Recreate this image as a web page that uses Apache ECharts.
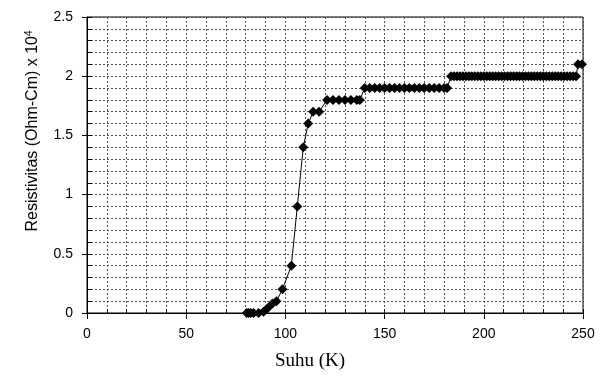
<!DOCTYPE html>
<html><head><meta charset="utf-8">
<script src="https://cdn.jsdelivr.net/npm/echarts@6/dist/echarts.min.js"></script>
<style>html,body{margin:0;padding:0;background:#fff}#c{width:608px;height:379px}</style>
</head><body><div id="c"></div>
<script>
const temperature = [80.5, 81.5, 82.5, 84, 86.5, 89, 91, 93.5, 95.5, 98.5, 103, 106, 109, 111.5, 114, 117,
  121, 124, 127, 130, 133, 136, 137.5,
  140, 142.5, 145, 147.5, 150, 152.5, 155, 157.5, 160, 162.5, 165, 167.5, 170, 172.5, 175, 177.5, 180, 181.5,
  183.5, 185, 186.5, 188, 189.5, 191, 192.5, 194, 195.5, 197, 198.5, 200, 201.5, 203, 204.5, 206, 207.5, 209,
  210.5, 212, 213.5, 215, 216.5, 218, 219.5, 221, 222.5, 224, 225.5, 227, 228.5, 230, 231.5, 233, 234.5, 236,
  237.5, 239, 240.5, 242, 243.5, 245, 246.5,
  247.5, 249.5];
const resistivity = [0, 0, 0, 0, 0, 0.01, 0.04, 0.08, 0.1, 0.2, 0.4, 0.9, 1.4, 1.6, 1.7, 1.7,
  1.8, 1.8, 1.8, 1.8, 1.8, 1.8, 1.8,
  1.9, 1.9, 1.9, 1.9, 1.9, 1.9, 1.9, 1.9, 1.9, 1.9, 1.9, 1.9, 1.9, 1.9, 1.9, 1.9, 1.9, 1.9,
  2.0, 2.0, 2.0, 2.0, 2.0, 2.0, 2.0, 2.0, 2.0, 2.0, 2.0, 2.0, 2.0, 2.0, 2.0, 2.0, 2.0, 2.0,
  2.0, 2.0, 2.0, 2.0, 2.0, 2.0, 2.0, 2.0, 2.0, 2.0, 2.0, 2.0, 2.0, 2.0, 2.0, 2.0, 2.0, 2.0,
  2.0, 2.0, 2.0, 2.0, 2.0, 2.0, 2.0,
  2.1, 2.1];
const xTicks = [0, 50, 100, 150, 200, 250];
const yTicks = [0, 0.5, 1, 1.5, 2, 2.5];
const xTitle = 'Suhu (K)';
const yTitle = 'Resistivitas (Ohm-Cm) x 10{sup|4}';

const points = temperature.map((t, i) => [t, resistivity[i]]);
const gridColor = '#505050';
const gridDash = [2, 2];
const labelFont = { fontFamily: 'Liberation Sans', fontSize: 14, color: '#000' };

const chart = echarts.init(document.getElementById('c'), null, { renderer: 'canvas' });
chart.setOption({
  animation: false,
  backgroundColor: '#fff',
  grid: { left: 87, right: 25, top: 17, bottom: 66, show: true, borderColor: '#000', borderWidth: 1, backgroundColor: 'transparent' },
  xAxis: [
    {
      type: 'value', min: xTicks[0], max: xTicks[xTicks.length - 1], interval: 50,
      axisLine: { show: true, onZero: false, lineStyle: { color: '#000', width: 1 } },
      axisTick: { show: true, inside: false, length: 6, lineStyle: { color: '#000' } },
      minorTick: { show: false, splitNumber: 5 },
      axisLabel: Object.assign({ margin: 14 }, labelFont),
      splitLine: { show: true, lineStyle: { color: gridColor, type: gridDash, width: 1 } },
      minorSplitLine: { show: true, lineStyle: { color: gridColor, type: gridDash, width: 1 } }
    },
    {
      type: 'value', min: xTicks[0], max: xTicks[xTicks.length - 1], interval: 50, position: 'bottom', offset: 0,
      axisLine: { show: false },
      axisTick: { show: true, inside: true, length: 4, lineStyle: { color: '#000' } },
      minorTick: { show: true, splitNumber: 5, length: 4, lineStyle: { color: '#000' } },
      axisLabel: { show: false },
      splitLine: { show: false }
    }
  ],
  yAxis: [
    {
      type: 'value', min: yTicks[0], max: yTicks[yTicks.length - 1], interval: 0.5,
      axisLine: { show: true, onZero: false, lineStyle: { color: '#000', width: 1 } },
      axisTick: { show: true, inside: false, length: 5, lineStyle: { color: '#000' } },
      minorTick: { show: false, splitNumber: 5 },
      axisLabel: Object.assign({ margin: 14 }, labelFont),
      splitLine: { show: true, lineStyle: { color: gridColor, type: gridDash, width: 1 } },
      minorSplitLine: { show: true, lineStyle: { color: gridColor, type: gridDash, width: 1 } }
    },
    {
      type: 'value', min: yTicks[0], max: yTicks[yTicks.length - 1], interval: 0.5, position: 'left', offset: 0,
      axisLine: { show: false },
      axisTick: { show: true, inside: true, length: 5, lineStyle: { color: '#000' } },
      minorTick: { show: true, splitNumber: 5, length: 5, lineStyle: { color: '#000' } },
      axisLabel: { show: false },
      splitLine: { show: false }
    }
  ],
  series: [{
    type: 'line', xAxisIndex: 0, yAxisIndex: 0, data: points,
    symbol: 'diamond', symbolSize: [10, 10], showSymbol: true, showAllSymbol: true,
    itemStyle: { color: '#000' }, lineStyle: { color: '#000', width: 1 }, clip: false
  }],
  graphic: [
    {
      type: 'text', x: 33, y: 131, rotation: Math.PI / 2,
      style: {
        text: yTitle, fill: '#000', font: '16px "Liberation Sans"', align: 'center', verticalAlign: 'middle',
        rich: { sup: { fontSize: 10, fontFamily: 'Liberation Sans', verticalAlign: 'top', padding: [0, 0, 8, 0] } }
      }
    },
    {
      type: 'text', x: 310, y: 361,
      style: { text: xTitle, fill: '#000', font: '19px "Liberation Serif"', align: 'center', verticalAlign: 'middle' }
    }
  ]
});
</script>
</body></html>
